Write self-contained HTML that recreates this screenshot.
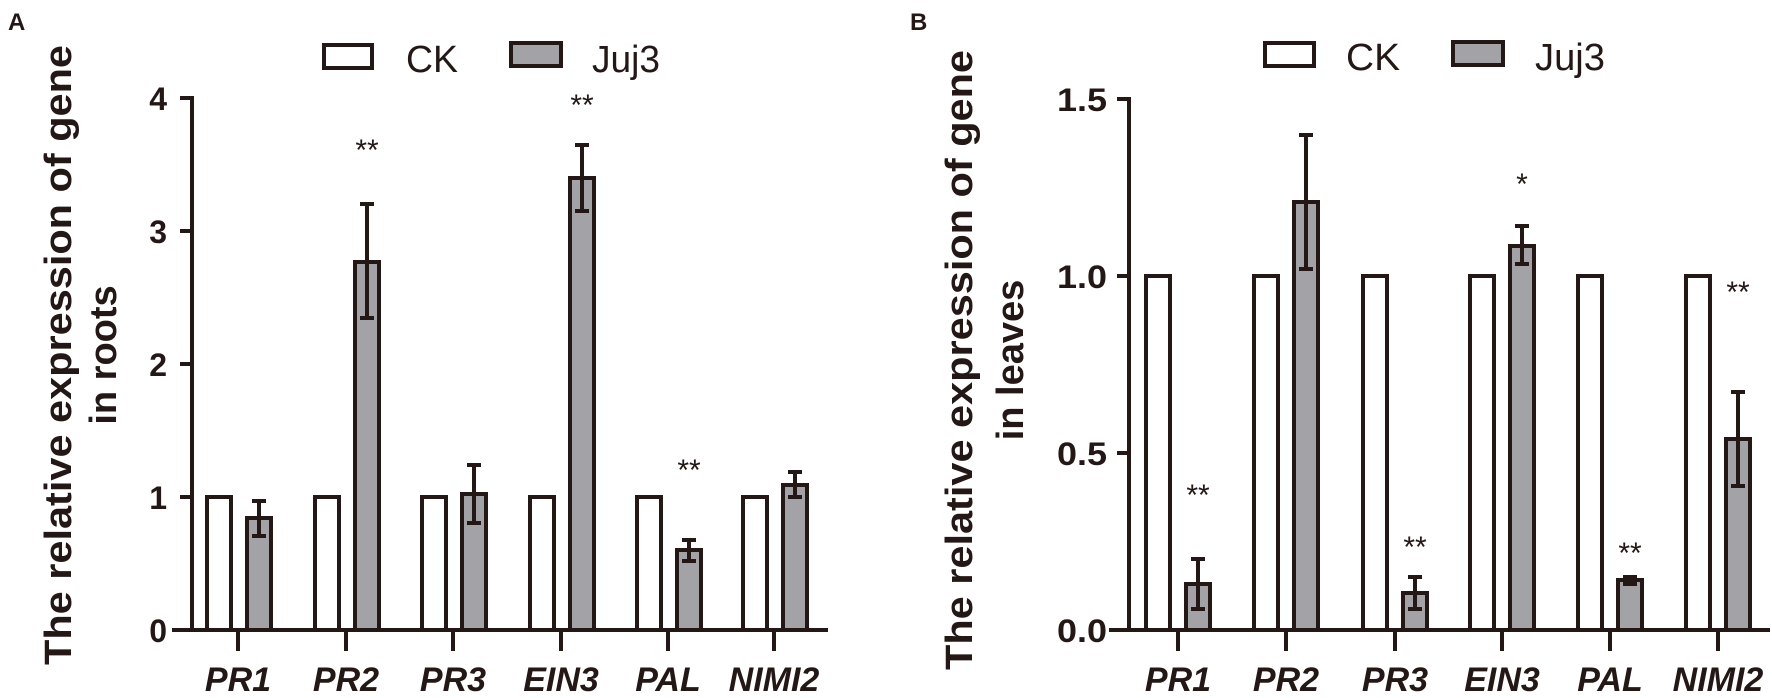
<!DOCTYPE html>
<html><head><meta charset="utf-8"><style>
html,body{margin:0;padding:0;background:#fff;}
svg{display:block;}
text{font-family:"Liberation Sans",Arial,sans-serif;fill:#231815;}
</style></head><body>
<svg width="1772" height="698" viewBox="0 0 1772 698" xmlns="http://www.w3.org/2000/svg">
<g stroke="#231815" stroke-width="4" fill="none">
<path d="M192 96 V632 M172 630 H828"/>
<path d="M180 98 H192 M180 231 H192 M180 364 H192 M180 497 H192 M180 630 H192"/>
<path d="M238 630 V651 M346 630 V651 M453 630 V651 M561 630 V651 M668 630 V651 M774 630 V651"/>
<path d="M1129 97 V632 M1109 630 H1770"/>
<path d="M1117 99 H1129 M1117 276 H1129 M1117 453 H1129 M1117 630 H1129"/>
<path d="M1178 630 V651 M1286 630 V651 M1395 630 V651 M1502 630 V651 M1610 630 V651 M1718 630 V651"/>
</g>
<g stroke="#231815" stroke-width="4">
<rect x="207" y="497" width="24" height="133" fill="#fff"/>
<rect x="247" y="518" width="24" height="112" fill="#a3a3a7"/>
<rect x="315" y="497" width="24" height="133" fill="#fff"/>
<rect x="355" y="262" width="24" height="368" fill="#a3a3a7"/>
<rect x="422" y="497" width="24" height="133" fill="#fff"/>
<rect x="462" y="494" width="24" height="136" fill="#a3a3a7"/>
<rect x="530" y="497" width="24" height="133" fill="#fff"/>
<rect x="570" y="178" width="24" height="452" fill="#a3a3a7"/>
<rect x="637" y="497" width="24" height="133" fill="#fff"/>
<rect x="677" y="550" width="24" height="80" fill="#a3a3a7"/>
<rect x="743" y="497" width="24" height="133" fill="#fff"/>
<rect x="783" y="485" width="24" height="145" fill="#a3a3a7"/>
<rect x="1146" y="276" width="24" height="354" fill="#fff"/>
<rect x="1186" y="584" width="24" height="46" fill="#a3a3a7"/>
<rect x="1254" y="276" width="24" height="354" fill="#fff"/>
<rect x="1294" y="202" width="24" height="428" fill="#a3a3a7"/>
<rect x="1363" y="276" width="24" height="354" fill="#fff"/>
<rect x="1403" y="593" width="24" height="37" fill="#a3a3a7"/>
<rect x="1470" y="276" width="24" height="354" fill="#fff"/>
<rect x="1510" y="246" width="24" height="384" fill="#a3a3a7"/>
<rect x="1578" y="276" width="24" height="354" fill="#fff"/>
<rect x="1618" y="580" width="24" height="50" fill="#a3a3a7"/>
<rect x="1686" y="276" width="24" height="354" fill="#fff"/>
<rect x="1726" y="439" width="24" height="191" fill="#a3a3a7"/>
</g>
<g stroke="#231815" stroke-width="4" fill="none">
<path d="M259 501 V536 M252 501 H266 M252 536 H266"/>
<path d="M367 204 V318 M360 204 H374 M360 318 H374"/>
<path d="M474 465 V523 M467 465 H481 M467 523 H481"/>
<path d="M582 145 V211 M575 145 H589 M575 211 H589"/>
<path d="M689 540 V561 M682 540 H696 M682 561 H696"/>
<path d="M795 472 V497 M788 472 H802 M788 497 H802"/>
<path d="M1198 559 V609 M1191 559 H1205 M1191 609 H1205"/>
<path d="M1306 135 V269 M1299 135 H1313 M1299 269 H1313"/>
<path d="M1415 577 V609 M1408 577 H1422 M1408 609 H1422"/>
<path d="M1522 226 V264 M1515 226 H1529 M1515 264 H1529"/>
<path d="M1630 577 V584 M1623 577 H1637 M1623 584 H1637"/>
<path d="M1738 392 V486 M1731 392 H1745 M1731 486 H1745"/>
<rect x="324" y="45" width="48" height="23" fill="#fff"/>
<rect x="511" y="43" width="50" height="23" fill="#a3a3a7"/>
<rect x="1265" y="43" width="49" height="23" fill="#fff"/>
<rect x="1453" y="42" width="50" height="23" fill="#a3a3a7"/>
</g>
<g font-size="30" text-anchor="middle">
<text x="367" y="160">**</text>
<text x="582" y="115">**</text>
<text x="689" y="480">**</text>
<text x="1198" y="505">**</text>
<text x="1415" y="557">**</text>
<text x="1522" y="194">*</text>
<text x="1630" y="563">**</text>
<text x="1738" y="302">**</text>
</g>
<g font-size="38">
<text x="406" y="72" textLength="52" lengthAdjust="spacingAndGlyphs">CK</text>
<text x="592" y="72" textLength="68" lengthAdjust="spacingAndGlyphs">Juj3</text>
<text x="1346" y="70" textLength="54" lengthAdjust="spacingAndGlyphs">CK</text>
<text x="1535" y="70" textLength="70" lengthAdjust="spacingAndGlyphs">Juj3</text>
</g>
<g font-size="32" font-weight="bold" text-anchor="end">
<text x="167" y="110">4</text>
<text x="167" y="243">3</text>
<text x="167" y="376">2</text>
<text x="167" y="509">1</text>
<text x="167" y="642">0</text>
<text x="1107" y="111" textLength="50" lengthAdjust="spacingAndGlyphs">1.5</text>
<text x="1107" y="288" textLength="50" lengthAdjust="spacingAndGlyphs">1.0</text>
<text x="1107" y="465" textLength="50" lengthAdjust="spacingAndGlyphs">0.5</text>
<text x="1107" y="642" textLength="50" lengthAdjust="spacingAndGlyphs">0.0</text>
</g>
<g font-size="34" font-weight="bold" font-style="italic" text-anchor="middle">
<text x="238" y="691">PR1</text>
<text x="346" y="691">PR2</text>
<text x="453" y="691">PR3</text>
<text x="561" y="691">EIN3</text>
<text x="668" y="691">PAL</text>
<text x="774" y="691">NIMI2</text>
<text x="1178" y="691">PR1</text>
<text x="1286" y="691">PR2</text>
<text x="1395" y="691">PR3</text>
<text x="1502" y="691">EIN3</text>
<text x="1610" y="691">PAL</text>
<text x="1718" y="691">NIMI2</text>
</g>
<g font-size="38" font-weight="bold" text-anchor="middle">
<text transform="translate(71,355) rotate(-90)" textLength="620" lengthAdjust="spacingAndGlyphs">The relative expression of gene</text>
<text transform="translate(116,355) rotate(-90)">in roots</text>
<text transform="translate(972,360) rotate(-90)" textLength="620" lengthAdjust="spacingAndGlyphs">The relative expression of gene</text>
<text transform="translate(1023,360) rotate(-90)">in leaves</text>
</g>
<g font-size="24" font-weight="bold">
<text x="8" y="30">A</text>
<text x="910" y="30">B</text>
</g>
</svg>
</body></html>
